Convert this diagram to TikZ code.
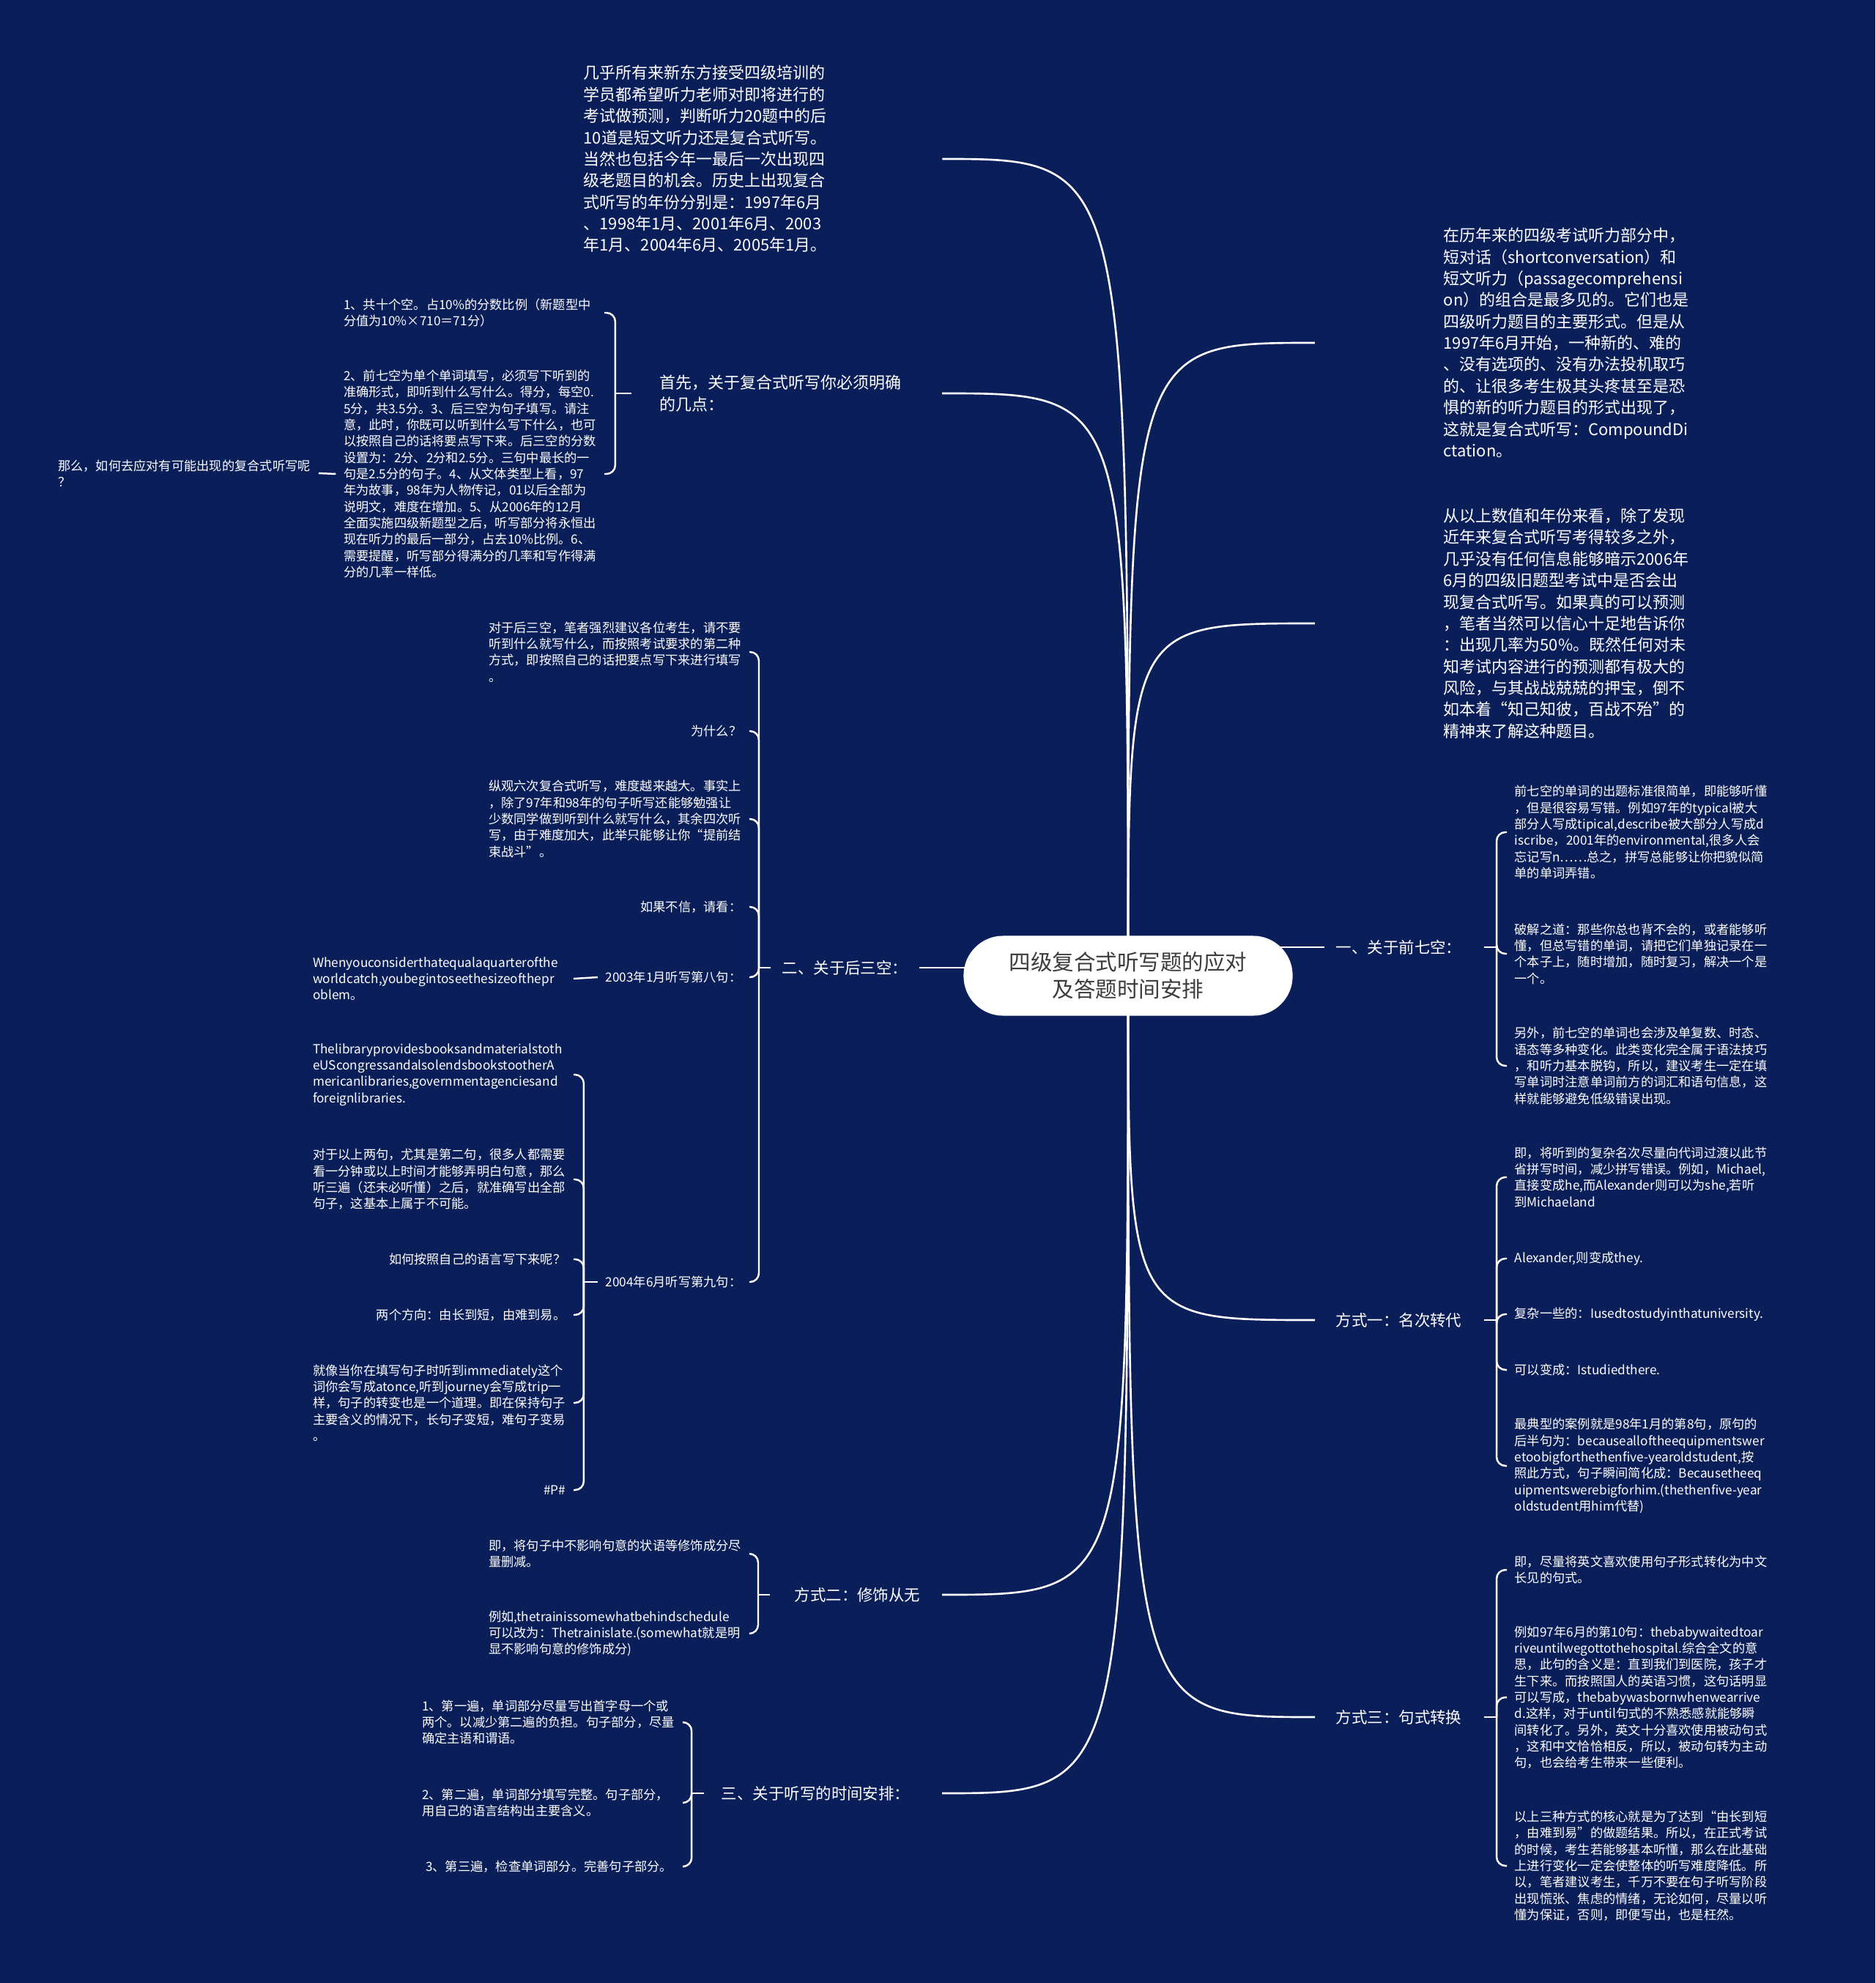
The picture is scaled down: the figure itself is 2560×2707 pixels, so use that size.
\documentclass[tikz,border=0pt]{standalone}
\usepackage{fontspec}
\newfontfamily\cjk{Noto Sans CJK SC}
\usetikzlibrary{backgrounds}
\setlength{\parindent}{0pt}

\definecolor{navy}{HTML}{0A1E5A}
\definecolor{rootgray}{HTML}{3C3C3C}

\tikzset{
	conn/.style={draw=white, line width=0.7pt, rounded corners=0.12cm},
	trunk/.style={draw=white, line width=0.75pt},
	rootnode/.style={fill=white, rounded corners=0.54cm, minimum width=4.49cm, minimum height=1.09cm, text=rootgray, align=center, font=\cjk\fontsize{8.4}{10.6}\selectfont},
	topic/.style={text=white, align=left, inner xsep=0.15cm, inner ysep=0.02cm, font=\cjk\fontsize{6.1}{8.3}\selectfont},
	bigtopic/.style={topic, font=\cjk\fontsize{6.25}{8.35}\selectfont},
	leaf/.style={text=white, align=left, inner xsep=0.1cm, inner ysep=0.02cm, font=\cjk\fontsize{4.9}{6.35}\selectfont},
	leafblock/.style={leaf, text width=3.45cm},
}

\begin{document}
\begin{tikzpicture}[x=0.01cm, y=-0.01cm]
	\useasboundingbox (0,0) rectangle (2560,2707);

	\node[rootnode] (root) at (1540,1332) {四级复合式听写题的应对\\及答题时间安排};

	% left, top
	\node[bigtopic, anchor=west] (T1) at (781,217) {几乎所有来新东方接受四级培训的\\学员都希望听力老师对即将进行的\\考试做预测，判断听力20题中的后\\10道是短文听力还是复合式听写。\\当然也包括今年一最后一次出现四\\级老题目的机会。历史上出现复合\\式听写的年份分别是：1997年6月\\、1998年1月、2001年6月、2003\\年1月、2004年6月、2005年1月。};
	\node[bigtopic, anchor=east] (L1) at (1246,537) {首先，关于复合式听写你必须明确\\的几点：};
	\node[leafblock, anchor=east] (C1a) at (825,427) {1、共十个空。占10\%的分数比例（新题型中\\分值为10\%×710＝71分）};
	\node[leafblock, anchor=east] (C1b) at (825,647) {2、前七空为单个单词填写，必须写下听到的\\准确形式，即听到什么写什么。得分，每空0.\\5分，共3.5分。3、后三空为句子填写。请注\\意，此时，你既可以听到什么写下什么，也可\\以按照自己的话将要点写下来。后三空的分数\\设置为：2分、2分和2.5分。三句中最长的一\\句是2.5分的句子。4、从文体类型上看，97\\年为故事，98年为人物传记，01以后全部为\\说明文，难度在增加。5、从2006年的12月\\全面实施四级新题型之后，听写部分将永恒出\\现在听力的最后一部分，占去10\%比例。6、\\需要提醒，听写部分得满分的几率和写作得满\\分的几率一样低。};
	\node[leafblock, anchor=east] (N1) at (435,646) {那么，如何去应对有可能出现的复合式听写呢\\？};

	% left, middle
	\node[topic, anchor=east] (L2) at (1255,1321) {二、关于后三空：};
	\node[leafblock, anchor=east] (C2a) at (1023,890) {对于后三空，笔者强烈建议各位考生，请不要\\听到什么就写什么，而按照考试要求的第二种\\方式，即按照自己的话把要点写下来进行填写\\。};
	\node[leaf, anchor=east] (C2b) at (1023,998) {为什么？};
	\node[leafblock, anchor=east] (C2c) at (1023,1118) {纵观六次复合式听写，难度越来越大。事实上\\，除了97年和98年的句子听写还能够勉强让\\少数同学做到听到什么就写什么，其余四次听\\写，由于难度加大，此举只能够让你“提前结\\束战斗”。};
	\node[leaf, anchor=east] (C2d) at (1023,1238) {如果不信，请看：};
	\node[leaf, anchor=east] (C2e) at (1023,1334) {2003年1月听写第八句：};
	\node[leafblock, anchor=east] (W1) at (783,1336) {Whenyouconsiderthatequalaquarterofthe\\worldcatch,youbegintoseethesizeofthepr\\oblem。};
	\node[leaf, anchor=east] (C2f) at (1023,1750) {2004年6月听写第九句：};
	\node[leafblock, anchor=east] (F1) at (783,1467) {Thelibraryprovidesbooksandmaterialstoth\\eUScongressandalsolendsbookstootherA\\mericanlibraries,governmentagenciesand\\foreignlibraries.};
	\node[leafblock, anchor=east] (F2) at (783,1610) {对于以上两句，尤其是第二句，很多人都需要\\看一分钟或以上时间才能够弄明白句意，那么\\听三遍（还未必听懂）之后，就准确写出全部\\句子，这基本上属于不可能。};
	\node[leaf, anchor=east] (F3) at (783,1719) {如何按照自己的语言写下来呢？};
	\node[leaf, anchor=east] (F4) at (783,1795) {两个方向：由长到短，由难到易。};
	\node[leafblock, anchor=east] (F5) at (783,1915) {就像当你在填写句子时听到immediately这个\\词你会写成atonce,听到journey会写成trip一\\样，句子的转变也是一个道理。即在保持句子\\主要含义的情况下，长句子变短，难句子变易\\。};
	\node[leaf, anchor=east] (F6) at (783,2034) {\#P\#};

	% left, bottom
	\node[topic, anchor=east] (L3) at (1272,2177) {方式二：修饰从无};
	\node[leafblock, anchor=east] (M1) at (1023,2121) {即，将句子中不影响句意的状语等修饰成分尽\\量删减。};
	\node[leafblock, anchor=east] (M2) at (1023,2230) {例如,thetrainissomewhatbehindschedule\\可以改为：Thetrainislate.(somewhat就是明\\显不影响句意的修饰成分)};
	\node[topic, anchor=east] (L4) at (1258,2448) {三、关于听写的时间安排：};
	\node[leafblock, anchor=east] (G1) at (932,2351) {1、第一遍，单词部分尽量写出首字母一个或\\两个。以减少第二遍的负担。句子部分，尽量\\确定主语和谓语。};
	\node[leafblock, anchor=east] (G2) at (932,2461) {2、第二遍，单词部分填写完整。句子部分，\\用自己的语言结构出主要含义。};
	\node[leafblock, anchor=east] (G3) at (932,2548) {\hspace*{0.05cm}3、第三遍，检查单词部分。完善句子部分。};

	% right, top
	\node[bigtopic, anchor=west] (R1) at (1955,468) {在历年来的四级考试听力部分中，\\短对话（shortconversation）和\\短文听力（passagecomprehensi\\on）的组合是最多见的。它们也是\\四级听力题目的主要形式。但是从\\1997年6月开始，一种新的、难的\\、没有选项的、没有办法投机取巧\\的、让很多考生极其头疼甚至是恐\\惧的新的听力题目的形式出现了，\\这就是复合式听写：CompoundDi\\ctation。};
	\node[bigtopic, anchor=west] (R2) at (1955,851) {从以上数值和年份来看，除了发现\\近年来复合式听写考得较多之外，\\几乎没有任何信息能够暗示2006年\\6月的四级旧题型考试中是否会出\\现复合式听写。如果真的可以预测\\，笔者当然可以信心十足地告诉你\\：出现几率为50\%。既然任何对未\\知考试内容进行的预测都有极大的\\风险，与其战战兢兢的押宝，倒不\\如本着“知己知彼，百战不殆”的\\精神来了解这种题目。};

	% right, middle
	\node[topic, anchor=west] (R3) at (1808,1293) {一、关于前七空：};
	\node[leafblock, anchor=west] (A1) at (2057,1136) {前七空的单词的出题标准很简单，即能够听懂\\，但是很容易写错。例如97年的typical被大\\部分人写成tipical,describe被大部分人写成d\\iscribe，2001年的environmental,很多人会\\忘记写n……总之，拼写总能够让你把貌似简\\单的单词弄错。};
	\node[leafblock, anchor=west] (A2) at (2057,1302) {破解之道：那些你总也背不会的，或者能够听\\懂，但总写错的单词，请把它们单独记录在一\\个本子上，随时增加，随时复习，解决一个是\\一个。};
	\node[leafblock, anchor=west] (A3) at (2057,1455) {另外，前七空的单词也会涉及单复数、时态、\\语态等多种变化。此类变化完全属于语法技巧\\，和听力基本脱钩，所以，建议考生一定在填\\写单词时注意单词前方的词汇和语句信息，这\\样就能够避免低级错误出现。};

	\node[topic, anchor=west] (R4) at (1808,1802) {方式一：名次转代};
	\node[leafblock, anchor=west] (B1) at (2057,1607) {即，将听到的复杂名次尽量向代词过渡以此节\\省拼写时间，减少拼写错误。例如，Michael,\\直接变成he,而Alexander则可以为she,若听\\到Michaeland};
	\node[leaf, anchor=west] (B2) at (2057,1718) {Alexander,则变成they.};
	\node[leaf, anchor=west] (B3) at (2057,1794) {复杂一些的：Iusedtostudyinthatuniversity.};
	\node[leaf, anchor=west] (B4) at (2057,1870) {可以变成：Istudiedthere.};
	\node[leafblock, anchor=west] (B5) at (2057,2001) {最典型的案例就是98年1月的第8句，原句的\\后半句为：becausealloftheequipmentswer\\etoobigforthethenfive-yearoldstudent,按\\照此方式，句子瞬间简化成：Becausetheeq\\uipmentswerebigforhim.(thethenfive-year\\oldstudent用him代替)};

	% right, bottom
	\node[topic, anchor=west] (R5) at (1808,2344) {方式三：句式转换};
	\node[leafblock, anchor=west] (D1) at (2057,2143) {即，尽量将英文喜欢使用句子形式转化为中文\\长见的句式。};
	\node[leafblock, anchor=west] (D2) at (2057,2317) {例如97年6月的第10句：thebabywaitedtoar\\riveuntilwegottothehospital.综合全文的意\\思，此句的含义是：直到我们到医院，孩子才\\生下来。而按照国人的英语习惯，这句话明显\\可以写成，thebabywasbornwhenwearrive\\d.这样，对于until句式的不熟悉感就能够瞬\\间转化了。另外，英文十分喜欢使用被动句式\\，这和中文恰恰相反，所以，被动句转为主动\\句，也会给考生带来一些便利。};
	\node[leafblock, anchor=west] (D3) at (2057,2547) {以上三种方式的核心就是为了达到“由长到短\\，由难到易”的做题结果。所以，在正式考试\\的时候，考生若能够基本听懂，那么在此基础\\上进行变化一定会使整体的听写难度降低。所\\以，笔者建议考生，千万不要在句子听写阶段\\出现慌张、焦虑的情绪，无论如何，尽量以听\\懂为保证，否则，即便写出，也是枉然。};

	% ends of the trunk curves
	\coordinate (t1) at ([xshift=5.05cm]T1.west);
	\coordinate (l1) at ([xshift=0.4cm]L1.east);
	\coordinate (l3) at ([xshift=0.14cm]L3.east);
	\coordinate (l4) at ([xshift=0.28cm]L4.east);
	\coordinate (r1) at ([xshift=-1.6cm]R1.west);
	\coordinate (r2) at ([xshift=-1.6cm]R2.west);
	\coordinate (r4) at ([xshift=-0.13cm]R4.west);
	\coordinate (r5) at ([xshift=-0.13cm]R5.west);

	\begin{pgfonlayer}{background}
		\fill[navy] (0,0) rectangle (2560,2707);
		\foreach \e in {t1,l1,l3,l4,r1,r2,r4,r5}
			\draw[trunk] (root.center) .. controls (root.center |- \e) .. (\e);
		\draw[trunk] (root.center |- L2.east) -- (L2.east);
		\draw[trunk] (root.center |- R3.west) -- (R3.west);

		% brackets
		\draw[conn] (L1.west) ++(-23,0) -- ++(-22,0) coordinate (l1s);
		\foreach \c in {C1a,C1b}
			\draw[conn] (l1s) |- (\c.east);
		\draw[conn] (C1b.west) -- (N1.east);

		\draw[conn] (L2.west) -- ++(-16,0) coordinate (l2s);
		\foreach \c in {C2a,C2b,C2c,C2d,C2e,C2f}
			\draw[conn] (l2s) |- (\c.east);
		\draw[conn] (C2e.west) -- (W1.east);
		\draw[conn] (C2f.west) -- ++(-19,0) coordinate (c2s);
		\foreach \c in {F1,F2,F3,F4,F5,F6}
			\draw[conn] (c2s) |- (\c.east);

		\draw[conn] (L3.west) ++(-18,0) -- ++(-16,0) coordinate (l3s);
		\foreach \c in {M1,M2}
			\draw[conn] (l3s) |- (\c.east);
		\draw[conn] (L4.west) ++(-8,0) -- ++(-17,0) coordinate (l4s);
		\foreach \c in {G1,G2,G3}
			\draw[conn] (l4s) |- (\c.east);

		\draw[conn] (R3.east) ++(15,0) -- ++(17,0) coordinate (r3s);
		\foreach \c in {A1,A2,A3}
			\draw[conn] (r3s) |- (\c.west);
		\draw[conn] (R4.east) ++(15,0) -- ++(17,0) coordinate (r4s);
		\foreach \c in {B1,B2,B3,B4,B5}
			\draw[conn] (r4s) |- (\c.west);
		\draw[conn] (R5.east) ++(15,0) -- ++(17,0) coordinate (r5s);
		\foreach \c in {D1,D2,D3}
			\draw[conn] (r5s) |- (\c.west);
	\end{pgfonlayer}
\end{tikzpicture}
\end{document}
